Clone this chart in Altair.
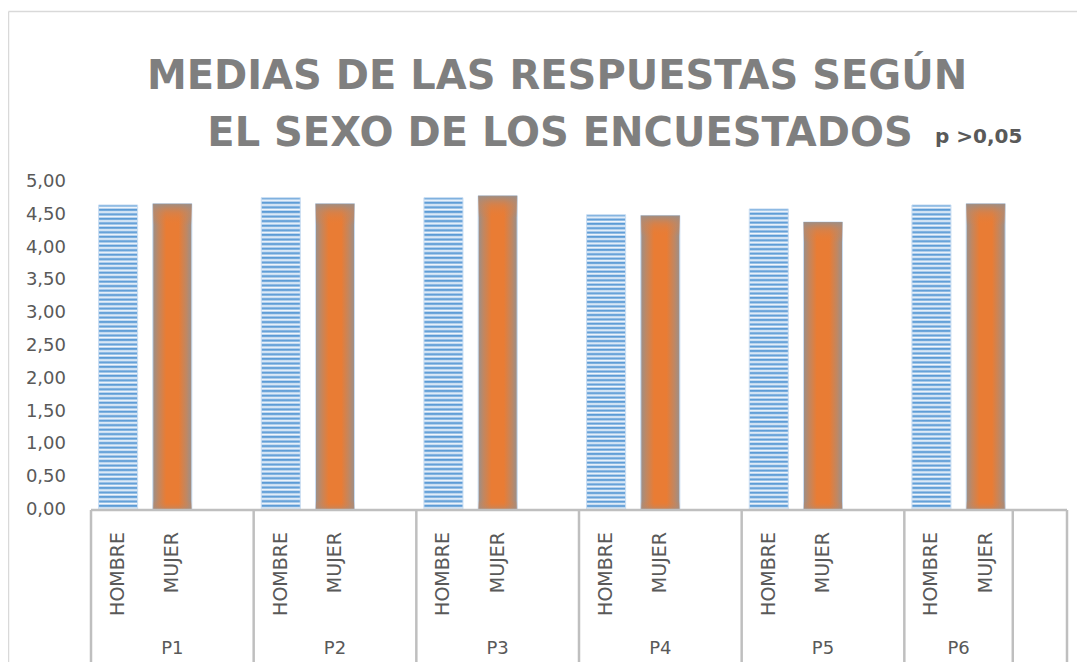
import altair as alt
import pandas as pd

# ---- data ----
groups = ["P1", "P2", "P3", "P4", "P5", "P6"]
sexes = ["HOMBRE", "MUJER"]
hombre = [4.65, 4.76, 4.76, 4.50, 4.59, 4.65]
mujer = [4.67, 4.67, 4.79, 4.49, 4.39, 4.67]
y_ticks = [0, 0.5, 1, 1.5, 2, 2.5, 3, 3.5, 4, 4.5, 5]
title_lines = ["MEDIAS DE LAS RESPUESTAS SEGÚN", "EL SEXO DE LOS ENCUESTADOS"]
note = "p >0,05"

# slots: each group has HOMBRE, MUJER and a blank slot; last group has no blank
# slot but one trailing empty slot exists after it
n_slots = 3 * (len(groups) - 1) + 2 + 1

rows = []
for i, g in enumerate(groups):
    for j, s in enumerate(sexes):
        v = hombre[i] if s == "HOMBRE" else mujer[i]
        rows.append({"group": g, "sex": s, "value": v, "slot": 3 * i + j})
df = pd.DataFrame(rows)

grp_rows = []
for i, g in enumerate(groups):
    start = 3 * i
    end = min(3 * i + 3, 3 * (len(groups) - 1) + 2)
    grp_rows.append({"group": g, "start": start, "end": end})
gdf = pd.DataFrame(grp_rows)
bounds = sorted(set(list(gdf["start"]) + list(gdf["end"]) + [n_slots]))
bdf = pd.DataFrame({"b": bounds})
tdf = pd.DataFrame({"v": y_ticks})

FONT = "DejaVu Sans"
GRAY = "#595959"
xs = alt.Scale(domain=[0, n_slots], nice=False, zero=False)
ys = alt.Scale(domain=[0, 5], nice=False)

# striped blue gradient for HOMBRE
n_stripes = 68
stops = []
for k in range(n_stripes):
    b = k / n_stripes
    w = 1 / n_stripes
    stops += [
        {"offset": b, "color": "#5b9bd5"},
        {"offset": b + 0.22 * w, "color": "#6fa7db"},
        {"offset": b + 0.55 * w, "color": "#f2f7fc"},
        {"offset": b + 0.82 * w, "color": "#b3d0ee"},
    ]
stops.append({"offset": 1, "color": "#5b9bd5"})
grad_h = alt.LinearGradient(gradient="linear", x1=0, y1=0, x2=0, y2=1, stops=stops)

grad_m = alt.LinearGradient(
    gradient="linear", x1=0, y1=0, x2=1, y2=0,
    stops=[
        {"offset": 0, "color": "#9a8f8a"},
        {"offset": 0.14, "color": "#c08762"},
        {"offset": 0.34, "color": "#e97c34"},
        {"offset": 0.66, "color": "#e97c34"},
        {"offset": 0.86, "color": "#c08762"},
        {"offset": 1, "color": "#9a8f8a"},
    ],
)
grad_m_top = alt.LinearGradient(
    gradient="linear", x1=0, y1=0, x2=0, y2=1,
    stops=[
        {"offset": 0, "color": "rgba(155,143,136,0.95)"},
        {"offset": 0.03, "color": "rgba(200,133,90,0.5)"},
        {"offset": 0.07, "color": "rgba(233,124,52,0)"},
        {"offset": 0.97, "color": "rgba(233,124,52,0)"},
        {"offset": 1, "color": "rgba(160,143,134,0.6)"},
    ],
)

base = alt.Chart(df).transform_calculate(
    x0="datum.slot + 0.14", x1="datum.slot + 0.86", xc="datum.slot + 0.5"
)

bars_h = base.transform_filter(alt.datum.sex == "HOMBRE").mark_bar(
    color=grad_h, stroke="#c9ddf2", strokeWidth=1
).encode(
    x=alt.X("x0:Q", scale=xs, axis=None),
    x2="x1:Q",
    y=alt.Y("value:Q", scale=ys, axis=None),
    y2=alt.datum(0),
)
bars_m = base.transform_filter(alt.datum.sex == "MUJER").mark_bar(
    color=grad_m, stroke="#c9ddf2", strokeWidth=1
).encode(
    x=alt.X("x0:Q", scale=xs, axis=None),
    x2="x1:Q",
    y=alt.Y("value:Q", scale=ys, axis=None),
    y2=alt.datum(0),
)
bars_m2 = base.transform_filter(alt.datum.sex == "MUJER").mark_bar(
    color=grad_m_top
).encode(
    x=alt.X("x0:Q", scale=xs, axis=None),
    x2="x1:Q",
    y=alt.Y("value:Q", scale=ys, axis=None),
    y2=alt.datum(0),
)

# category axis baseline
xline = alt.Chart(pd.DataFrame({"a": [0]})).mark_rule(
    color="#bfbfbf", strokeWidth=2.5
).encode(
    x=alt.X("a:Q", scale=xs, axis=None),
    x2=alt.datum(n_slots),
    y=alt.Y("a:Q", scale=ys, axis=None),
)

# y tick labels with decimal comma, placed by the y scale
ylabels = alt.Chart(tdf).transform_calculate(
    lab="replace(format(datum.v, '.2f'), '.', ',')"
).mark_text(align="right", baseline="middle", font=FONT, fontSize=18,
            color=GRAY, dx=-25).encode(
    x=alt.value(0),
    y=alt.Y("v:Q", scale=ys, axis=None),
    text="lab:N",
)

sex_labels = base.mark_text(
    angle=270, align="right", baseline="middle", font=FONT, fontSize=19, color=GRAY
).encode(
    x=alt.X("xc:Q", scale=xs, axis=None),
    y=alt.value(350),
    text="sex:N",
)

group_labels = alt.Chart(gdf).transform_calculate(
    c="(datum.start + datum.end) / 2"
).mark_text(baseline="middle", font=FONT, fontSize=18, color=GRAY).encode(
    x=alt.X("c:Q", scale=xs, axis=None),
    y=alt.value(467),
    text="group:N",
)

seps = alt.Chart(bdf).mark_rule(color="#bfbfbf", strokeWidth=2.5).encode(
    x=alt.X("b:Q", scale=xs, axis=None),
    y=alt.value(328),
    y2=alt.value(481),
)

t1 = alt.Chart(pd.DataFrame({"t": [title_lines[0]]})).mark_text(
    font=FONT, fontSize=40, fontWeight="bold", color="#7f7f7f",
    align="center", baseline="alphabetic"
).encode(x=alt.value(466), y=alt.value(-93), text="t:N")
t2 = alt.Chart(pd.DataFrame({"t": [title_lines[1]]})).mark_text(
    font=FONT, fontSize=40, fontWeight="bold", color="#7f7f7f",
    align="center", baseline="alphabetic"
).encode(x=alt.value(469), y=alt.value(-36), text="t:N")
t3 = alt.Chart(pd.DataFrame({"t": [note]})).mark_text(
    font=FONT, fontSize=20, fontWeight="bold", color=GRAY,
    align="left", baseline="alphabetic"
).encode(x=alt.value(844), y=alt.value(-39), text="t:N")

border_l = alt.Chart(pd.DataFrame({"a": [0]})).mark_rule(
    color="#d9d9d9", strokeWidth=1.5
).encode(x=alt.value(-82.5), y=alt.value(-170.5), y2=alt.value(500))
border_t = alt.Chart(pd.DataFrame({"a": [0]})).mark_rule(
    color="#d9d9d9", strokeWidth=1.5
).encode(x=alt.value(-82.5), x2=alt.value(1000), y=alt.value(-170.5))

chart = alt.layer(
    bars_h, bars_m, bars_m2, xline, seps, ylabels, sex_labels, group_labels,
    t1, t2, t3, border_l, border_t
).properties(
    width=976, height=328,
    autosize=alt.AutoSizeParams(type="none"),
    padding={"left": 83, "top": 174, "right": 10, "bottom": 152},
).configure_view(stroke=None)

chart.save("out.html", embed_options={"renderer": "svg", "actions": False})
